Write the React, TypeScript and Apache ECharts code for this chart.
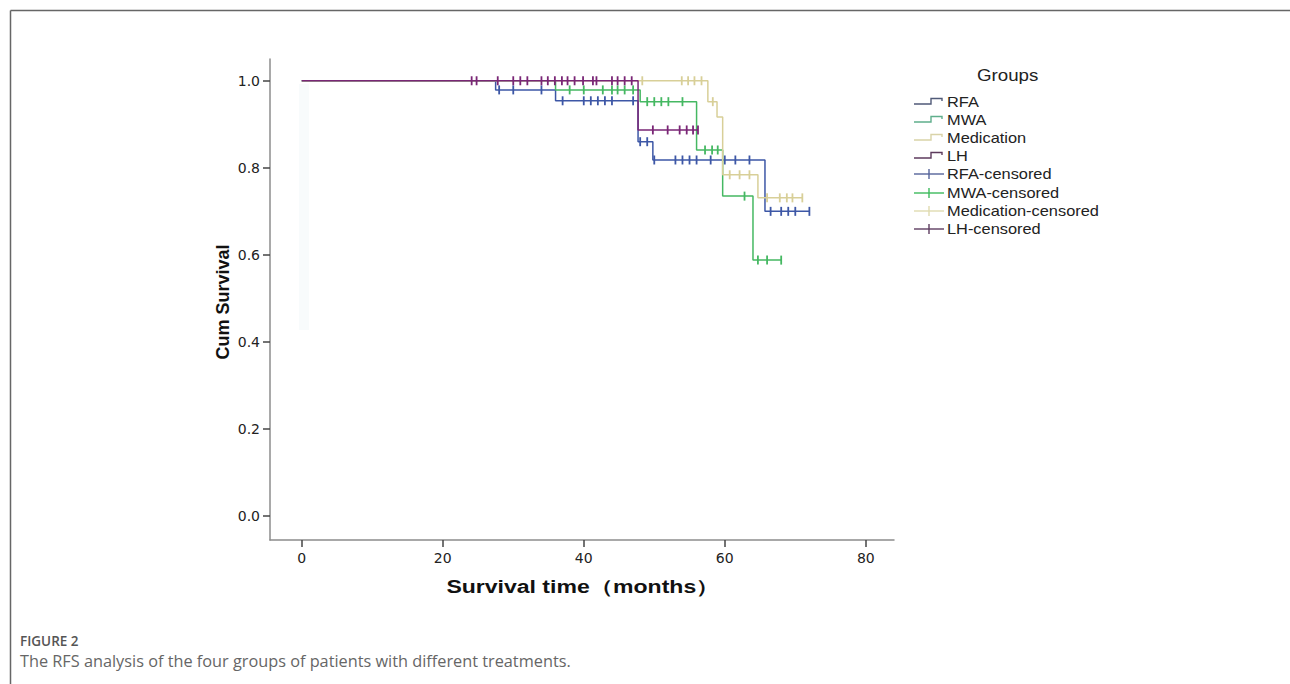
import React, { useEffect, useRef } from "react";
import * as echarts from "echarts";

// Kaplan-Meier step curves (time in months, cumulative survival)
const RFA_T = [0, 27.5, 36, 47.7, 49.8, 65.7, 72];
const RFA_S = [1, 0.979, 0.954, 0.86, 0.818, 0.7, 0.7];
const MWA_T = [0, 36, 48, 56, 59.7, 64, 68];
const MWA_S = [1, 0.979, 0.952, 0.841, 0.735, 0.588, 0.588];
const MED_T = [0, 57.6, 58.9, 59.7, 64.7, 71];
const MED_S = [1, 0.952, 0.917, 0.784, 0.731, 0.731];
const LH_T = [0, 47.7, 56.2];
const LH_S = [1, 0.887, 0.887];

// Censored observation times
const RFA_C = [28, 30, 34, 37, 40, 41, 42, 43, 44, 47, 48, 49, 50, 53, 54, 55, 56, 58, 60, 61.5, 63.5, 66.5, 68, 69, 70, 72];
const MWA_C = [38, 40, 42.7, 44, 44.8, 45.8, 47, 49, 50, 51, 52, 54, 57.2, 58.2, 59, 62.8, 64.7, 66, 68];
const MED_C = [48.3, 53.9, 54.8, 55.7, 56.7, 58.3, 60.7, 62.1, 63.5, 66, 67.8, 68.8, 69.6, 71];
const LH_C = [24.1, 24.8, 27.8, 30, 31, 32, 34, 34.9, 35.9, 36.9, 37.7, 38.7, 39.9, 41.3, 41.8, 44, 44.8, 45.8, 46.8, 49.8, 51.9, 53.6, 54.6, 55.5, 56.2];

const GROUPS = ["RFA", "MWA", "Medication", "LH"];
const X_TICKS = [0, 20, 40, 60, 80];
const Y_TICKS = [0, 0.2, 0.4, 0.6, 0.8, 1.0];

const LINE_COLORS = ["#3d57a6", "#45b862", "#d8cf98", "#7a2676"];
const LEG_STEP_COLORS = ["#505a78", "#5fae8c", "#d9d3a8", "#5d3b5d"];
const LEG_CENS_COLORS = ["#55649a", "#3dba5c", "#e0dbb0", "#5d3d60"];

function stepValue(T: number[], S: number[], t: number) {
  let v = S[0];
  for (let i = 0; i < T.length; i++) if (T[i] <= t) v = S[i];
  return v;
}

const curves = [
  { T: RFA_T, S: RFA_S, C: RFA_C },
  { T: MWA_T, S: MWA_S, C: MWA_C },
  { T: MED_T, S: MED_S, C: MED_C },
  { T: LH_T, S: LH_S, C: LH_C },
];

const SX = 1.17;

function buildLegend() {
  const els: any[] = [];
  els.push({
    type: "text",
    x: 977,
    y: 75,
    scaleX: SX,
    style: { text: "Groups", fill: "#222", font: "16px 'Liberation Sans', Arial, sans-serif", textAlign: "left", textVerticalAlign: "middle" },
  });
  const rowY = [102, 120, 138, 156, 174, 193, 211, 229];
  GROUPS.forEach((g, i) => {
    const y = rowY[i];
    els.push({
      type: "polyline",
      shape: { points: [[914, y + 2], [931, y + 2], [931, y - 3.5], [942, y - 3.5], [942, y - 1]] },
      style: { stroke: LEG_STEP_COLORS[i], lineWidth: 1.4, fill: "none" },
    });
    els.push({
      type: "text",
      x: 947,
      y: y,
      scaleX: SX,
      style: { text: g, fill: "#222", font: "14px 'Liberation Sans', Arial, sans-serif", textAlign: "left", textVerticalAlign: "middle" },
    });
  });
  GROUPS.forEach((g, i) => {
    const y = rowY[i + 4];
    els.push({ type: "line", shape: { x1: 914, y1: y, x2: 944, y2: y }, style: { stroke: LEG_CENS_COLORS[i], lineWidth: 1.4 } });
    els.push({ type: "line", shape: { x1: 929, y1: y - 5, x2: 929, y2: y + 5 }, style: { stroke: LEG_CENS_COLORS[i], lineWidth: 1.4 } });
    els.push({
      type: "text",
      x: 947,
      y: y,
      scaleX: SX,
      style: { text: g + "-censored", fill: "#222", font: "14px 'Liberation Sans', Arial, sans-serif", textAlign: "left", textVerticalAlign: "middle" },
    });
  });
  return els;
}

export default function App() {
  const ref = useRef<HTMLDivElement>(null);
  useEffect(() => {
    const chart = echarts.init(ref.current!, null, { renderer: "svg" });
    const lineSeries = curves.map((c, i) => ({
      name: GROUPS[i],
      type: "line",
      step: "end",
      showSymbol: false,
      symbol: "none",
      data: c.T.map((t, k) => [t, c.S[k]]),
      lineStyle: { color: LINE_COLORS[i], width: 1.5 },
      itemStyle: { color: LINE_COLORS[i] },
      z: 2 + i,
    }));
    const censSeries = curves.map((c, i) => ({
      name: GROUPS[i] + "-censored",
      type: "scatter",
      symbol: "rect",
      symbolSize: [1.8, 9],
      data: c.C.map((t) => [t, stepValue(c.T, c.S, t)]),
      itemStyle: { color: LINE_COLORS[i], opacity: 1 },
      z: 2 + i,
    }));
    const option: any = {
      animation: false,
      backgroundColor: "#ffffff",
      grid: { left: 270, right: 396, top: 59, bottom: 144, containLabel: false },
      xAxis: {
        type: "value",
        min: -4.5,
        max: 84,
        axisLine: { onZero: false, lineStyle: { color: "#8c8c8c", width: 1.5 } },
        axisTick: { show: true, length: 7, customValues: X_TICKS, lineStyle: { color: "#444", width: 1.5 } },
        axisLabel: { customValues: X_TICKS, margin: 11, color: "#222", fontSize: 14, fontFamily: "'DejaVu Sans', sans-serif" },
        splitLine: { show: false },
      },
      yAxis: {
        type: "value",
        min: -0.055,
        max: 1.05,
        axisLine: { show: true, onZero: false, lineStyle: { color: "#8c8c8c", width: 1.5 } },
        axisTick: { show: true, length: 7, customValues: Y_TICKS, lineStyle: { color: "#444", width: 1.5 } },
        axisLabel: {
          customValues: Y_TICKS,
          margin: 10,
          color: "#222",
          fontSize: 14,
          fontFamily: "'DejaVu Sans', sans-serif",
          formatter: (v: number) => v.toFixed(1),
        },
        splitLine: { show: false },
      },
      series: [...lineSeries, ...censSeries],
      graphic: [
        { type: "line", shape: { x1: 10.5, y1: 10.5, x2: 1290, y2: 10.5 }, style: { stroke: "#666", lineWidth: 1.5 } },
        { type: "line", shape: { x1: 10.5, y1: 10.5, x2: 10.5, y2: 684 }, style: { stroke: "#666", lineWidth: 1.5 } },
        { type: "rect", shape: { x: 299, y: 84, width: 10, height: 246 }, style: { fill: "#f8fbfc" }, z: -1 },
        {
          type: "text",
          x: 583,
          y: 586,
          scaleX: 1.28,
          style: { text: "Survival time（months）", fill: "#111", font: "bold 18px 'Liberation Sans', Arial, sans-serif", textAlign: "center", textVerticalAlign: "middle" },
        },
        {
          type: "text",
          x: 223,
          y: 302,
          rotation: Math.PI / 2,
          style: { text: "Cum Survival", fill: "#111", font: "bold 18px 'Liberation Sans', Arial, sans-serif", textAlign: "center", textVerticalAlign: "middle" },
        },
        ...buildLegend(),
        {
          type: "text",
          x: 20,
          y: 641,
          style: { text: "FIGURE 2", fill: "#555", font: "600 13.5px 'Open Sans', sans-serif", textAlign: "left", textVerticalAlign: "middle" },
        },
        {
          type: "text",
          x: 20,
          y: 661,
          style: { text: "The RFS analysis of the four groups of patients with different treatments.", fill: "#666", font: "16.3px 'Open Sans', sans-serif", textAlign: "left", textVerticalAlign: "middle" },
        },
      ],
    };
    chart.setOption(option);
    return () => chart.dispose();
  }, []);
  return (
    <div
      ref={ref}
      style={{ position: "fixed", left: 0, top: 0, width: 1290, height: 684, background: "#fff" }}
    />
  );
}
